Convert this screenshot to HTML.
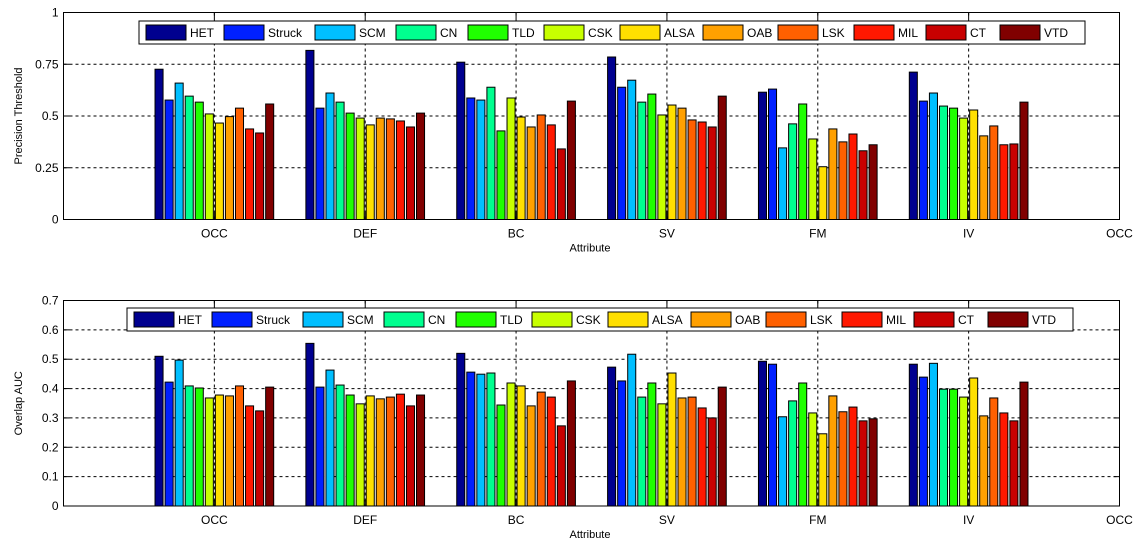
<!DOCTYPE html>
<html><head><meta charset="utf-8"><style>body{margin:0;background:#fff}svg{display:block;font-family:"Liberation Sans",Arial,sans-serif}</style></head>
<body>
<svg id="c" width="1148" height="544"></svg>
<script>
const categories=["OCC","DEF","BC","SV","FM","IV","OCC"];
const trackers=["HET","Struck","SCM","CN","TLD","CSK","ALSA","OAB","LSK","MIL","CT","VTD"];
const colors=["#00008f","#0020ff","#00bfff","#00ff8f","#20ff00","#c8ff00","#ffdf00","#ffa000","#ff6000","#ff1800","#c80000","#800000"];
const precision=[
[0.726,0.817,0.76,0.785,0.615,0.712],
[0.577,0.538,0.587,0.639,0.63,0.572],
[0.659,0.611,0.577,0.673,0.346,0.611],
[0.596,0.567,0.639,0.567,0.462,0.548],
[0.567,0.514,0.428,0.606,0.558,0.538],
[0.51,0.49,0.587,0.505,0.389,0.49],
[0.466,0.457,0.495,0.553,0.255,0.529],
[0.497,0.49,0.447,0.538,0.4375,0.404],
[0.538,0.486,0.505,0.481,0.375,0.452],
[0.4375,0.476,0.457,0.471,0.413,0.361],
[0.418,0.447,0.341,0.447,0.332,0.365],
[0.558,0.514,0.572,0.596,0.361,0.567]];
const overlap=[
[0.51,0.554,0.52,0.473,0.493,0.483],
[0.422,0.405,0.456,0.426,0.483,0.439],
[0.497,0.463,0.449,0.517,0.304,0.486],
[0.409,0.412,0.453,0.371,0.358,0.398],
[0.402,0.378,0.344,0.419,0.419,0.398],
[0.368,0.348,0.419,0.348,0.317,0.371],
[0.378,0.375,0.409,0.453,0.246,0.436],
[0.375,0.365,0.341,0.368,0.375,0.307],
[0.409,0.371,0.388,0.371,0.321,0.368],
[0.341,0.381,0.371,0.334,0.337,0.317],
[0.324,0.341,0.273,0.3,0.29,0.29],
[0.405,0.378,0.426,0.405,0.297,0.422]];
const ticksTop=[0,0.25,0.5,0.75,1];
const tickLabelsTop=["0","0.25","0.5","0.75","1"];
const ticksBot=[0,0.1,0.2,0.3,0.4,0.5,0.6,0.7];
const tickLabelsBot=["0","0.1","0.2","0.3","0.4","0.5","0.6","0.7"];
const legendTextX=[190,268,359,440,512,588,664,747,822,898,970,1044];

const NS="http://www.w3.org/2000/svg";
const svg=document.getElementById('c');
function mk(tag,attrs,parent){const e=document.createElementNS(NS,tag);for(const k in attrs)e.setAttribute(k,attrs[k]);(parent||svg).appendChild(e);return e;}

function panel(opt){
  const L=63.5,R=1119.5,T=opt.top,B=opt.bottom,ymax=opt.ymax;
  const g=mk('g',{});
  
  
  const x=v=>L+(R-L)*v/7;
  const y=v=>B-(B-T)*v/ymax;
  opt.ticks.forEach((t,i)=>{
    if(t>0&&t<ymax){const l=mk('line',{x1:L,x2:R,y1:y(t),y2:y(t),stroke:'#000','stroke-width':1,'stroke-dasharray':'3,3'},g);
    }
    mk('line',{x1:L,x2:L+6,y1:y(t),y2:y(t),stroke:'#000'},g);
    mk('line',{x1:R,x2:R-6,y1:y(t),y2:y(t),stroke:'#000'},g);
    const tx=mk('text',{x:L-5,y:y(t)+4,'text-anchor':'end','font-size':12},g);
    tx.textContent=opt.labels[i];
    
  });
  categories.forEach((c,i)=>{
    const xc=x(i+1);
    if(i<6){const l=mk('line',{x1:xc,x2:xc,y1:T,y2:B,stroke:'#000','stroke-dasharray':'3,3'},g);
    }
    mk('line',{x1:xc,x2:xc,y1:B,y2:B-6,stroke:'#000'},g);
    mk('line',{x1:xc,x2:xc,y1:T,y2:T+6,stroke:'#000'},g);
    const tx=mk('text',{x:xc,y:B+18,'text-anchor':'middle','font-size':12},g);
    tx.textContent=c;
    
  });
  const pitch=0.8/12, bw=pitch*0.8;
  opt.data.forEach((ser,s)=>{
    ser.forEach((v,i)=>{
      const xc=(i+1)-0.4+pitch*(s+0.5);
      const r=mk('rect',{x:x(xc-bw/2),y:y(v),width:x(bw)-x(0),height:y(0)-y(v),fill:colors[s],stroke:'#000','stroke-width':1},g);
      
      
    });
  });
  mk('rect',{x:L,y:T,width:R-L,height:B-T,fill:'none',stroke:'#000','stroke-width':1},g);
  const yl=mk('text',{x:0,y:0,'text-anchor':'middle','font-size':11,transform:`translate(22,${(T+B)/2}) rotate(-90)`},g);
  yl.textContent=opt.ylabel;
  
  const xl=mk('text',{x:590,y:B+32,'text-anchor':'middle','font-size':11},g);
  xl.textContent='Attribute';
  
  const lg=mk('g',{},g);
  
  const off=opt.legOff, lt=opt.legTop;
  mk('rect',{x:139+off,y:lt,width:946,height:23,fill:'#fff',stroke:'#000'},lg);
  trackers.forEach((n,s)=>{
    const tx0=legendTextX[s]+off;
    const sw=mk('rect',{x:tx0-44,y:lt+4,width:40,height:15,fill:colors[s],stroke:'#000'},lg);
    
    const t=mk('text',{x:tx0,y:lt+16,'font-size':12},lg);
    t.textContent=n;
    
  });
}
panel({name:'precision-chart',top:12.5,bottom:219.5,ymax:1,ticks:ticksTop,labels:tickLabelsTop,data:precision,ylabel:'Precision Threshold',legOff:0,legTop:21});
panel({name:'overlap-chart',top:300.5,bottom:506,ymax:0.7,ticks:ticksBot,labels:tickLabelsBot,data:overlap,ylabel:'Overlap AUC',legOff:-12,legTop:308});
</script>
</body></html>
